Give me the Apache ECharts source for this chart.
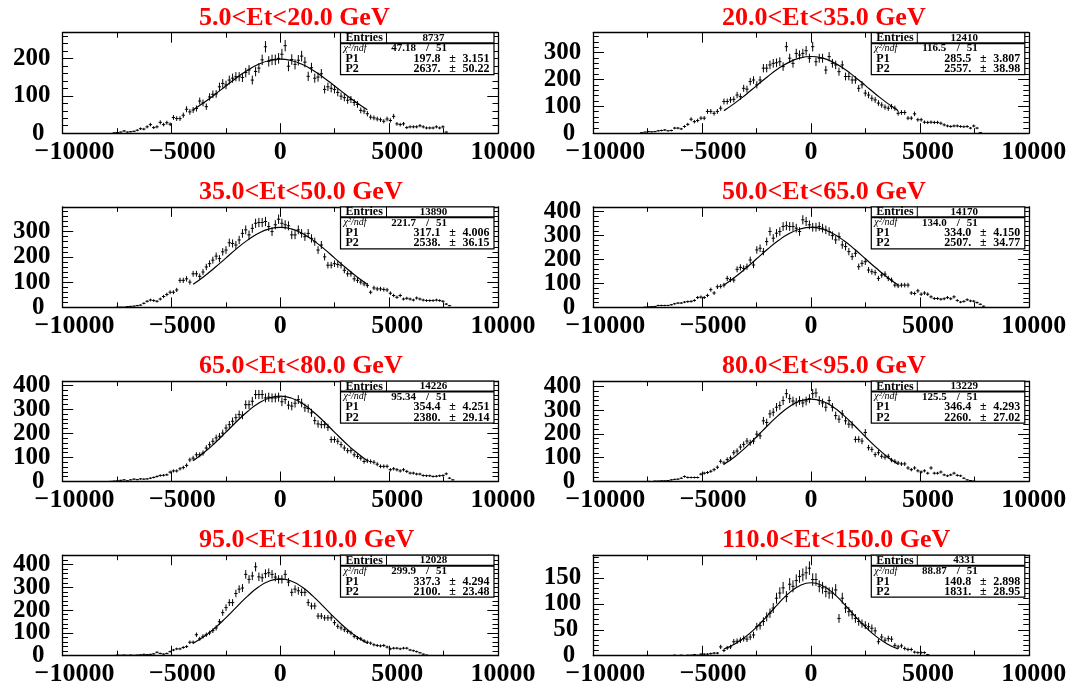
<!DOCTYPE html>
<html>
<head>
<meta charset="utf-8">
<script src="https://cdn.jsdelivr.net/npm/echarts@6/dist/echarts.min.js"></script>
<style>
html,body{margin:0;padding:0;background:#fff;}
#c{width:1079px;height:693px;}
</style>
</head>
<body>
<div id="c"></div>
<script>
// ---------------- data ----------------
const titles = ['5.0<Et<20.0 GeV','20.0<Et<35.0 GeV','35.0<Et<50.0 GeV','50.0<Et<65.0 GeV',
                '65.0<Et<80.0 GeV','80.0<Et<95.0 GeV','95.0<Et<110.0 GeV','110.0<Et<150.0 GeV'];
const entries = ['8737','12410','13890','14170','14226','13229','12028','4331'];
const chi2 = ['47.18','116.5','221.7','134.0','95.34','125.5','299.9','88.87'];
const ndf = ['51','51','51','51','51','51','51','51'];
const p1Val = ['197.8','285.5','317.1','334.0','354.4','346.4','337.3','140.8'];
const p1Err = ['3.151','3.807','4.006','4.150','4.251','4.293','4.294','2.898'];
const p2Val = ['2637.','2557.','2538.','2507.','2380.','2260.','2100.','1831.'];
const p2Err = ['50.22','38.98','36.15','34.77','29.14','27.02','23.48','28.95'];
const yMax = [268.6, 374, 398, 420, 417, 422, 441, 194];
const yStep = [100, 100, 100, 100, 100, 100, 100, 50];
const yMinorStep = [20, 20, 20, 20, 20, 20, 20, 10];
const xTickLabels = {'-10000':'\u221210000','-5000':'\u22125000','0':'0','5000':'5000','10000':'10000'};

// histogram binning (106 bins over -8000..8000)
const histMin = -8000, histMax = 8000, nBins = 106;

const counts1 = [0,0,1,2,3,6,3,4,5,8, 12,11,17,23,15,17,29,23,28,24, 42,39,39,48,64,57,62,66,86,81,
  71,97,104,105,124,133,129,142,147,151, 151,149,162,169,142,165,174,196,231,192,
  196,196,200,211,234,179,197,184,195,206, 190,152,175,147,150,159,117,124,120,117,
  109,99,95,88,90,82,77,61,59,52, 43,41,38,36,32,38,34,45,25,23, 25,15,17,17,17,20,17,14,14,14, 17,14,17,3,0,0];
const counts2 = [0,2,4,6,5,6,9,10,12,9, 10,19,19,16,25,33,52,43,47,56, 56,81,81,74,81,93,118,118,124,126,
  142,136,167,164,192,198,180,198,242,242, 254,260,262,266,248,322,279,260,297,291,
  297,307,279,322,266,279,279,235,285,260, 254,229,254,211,211,198,198,167,180,149,
  142,130,124,112,105,97,93,99,93,74, 77,77,56,56,72,50,50,41,40,41, 40,40,37,31,27,25,27,27,25,24, 25,19,27,19,2,0];
const counts3 = [0,0,0,1,1,1,3,4,5,7, 9,16,24,29,27,24,33,43,51,60, 60,69,107,107,113,100,133,133,123,140,
  160,173,187,203,193,220,227,256,253,247, 267,293,307,287,313,333,336,336,340,320,
  300,327,349,333,327,323,287,287,307,293, 280,293,273,260,227,247,200,167,167,173,
  170,167,147,133,133,113,107,100,93,87, 60,77,73,73,71,69,56,47,40,47, 33,36,33,29,37,33,29,27,27,27, 29,27,24,13,7,0];
const counts4 = [0,0,1,2,3,4,8,8,8,8, 11,15,18,18,22,24,25,29,41,43, 41,50,74,60,86,88,93,121,116,114,
  159,167,163,170,198,177,240,247,233,275, 317,289,310,317,338,341,338,338,331,317,
  366,359,345,335,335,338,331,324,317,300, 282,296,261,254,233,212,226,170,184,191,
  156,149,145,121,135,139,121,114,93,90, 93,93,93,60,58,69,55,60,55,44, 37,37,34,36,41,36,44,29,22,25, 32,27,26,20,13,5];
const counts5 = [0,1,2,3,5,7,3,7,10,8, 11,10,11,14,17,21,25,26,28,39, 44,44,53,58,67,90,97,111,111,118,
  139,153,167,181,188,201,222,236,250,265, 278,275,319,319,333,361,361,361,347,350,
  347,347,350,331,340,317,313,325,340,326, 306,303,285,253,239,236,236,225,174,174,
  167,153,139,128,128,111,104,97,83,86, 83,80,72,63,63,63,49,53,49,44, 49,42,35,35,31,31,25,24,24,21, 22,24,25,32,14,7];
const counts6 = [0,0,0,1,0,2,2,3,3,4, 7,9,10,14,21,17,17,17,17,31, 35,38,43,50,60,85,78,92,99,121,
  128,145,156,170,163,170,199,192,255,248, 284,291,312,319,340,369,348,338,333,340,
  330,338,348,369,372,340,330,312,340,312, 277,262,284,255,241,238,177,177,170,206,
  142,135,113,121,106,102,106,90,85,78, 74,74,57,50,57,45,40,45,35,57, 35,35,40,28,24,28,35,26,24,14, 7,4,2,0,0,0];
const counts7 = [0,0,1,3,2,3,2,3,2,3, 4,6,5,6,8,15,10,7,10,18, 25,30,30,36,40,59,59,92,74,85,
  92,100,110,122,149,189,211,233,233,273, 292,297,357,335,350,390,346,342,360,364,
  357,345,335,335,357,323,278,292,285,278, 278,233,218,218,174,174,166,166,166,145,
  129,122,114,107,100,85,77,74,65,59, 55,48,45,43,45,38,30,33,33,30, 33,33,25,22,18,13,7,3,1,0, 0,0,0,0,0,0];
const counts8 = [0,0,0,0,0,0,0,0,0,0, 0,1,0,1,0,1,1,2,1,3, 3,3,4,5,5,17,10,15,17,27,
  28,30,33,32,36,40,56,58,66,75, 82,92,111,121,131,114,138,134,145,153,
  156,160,169,147,147,134,131,124,121,121, 127,72,111,92,85,79,72,66,62,59,
  56,53,48,27,36,30,33,32,20,17, 19,14,12,12,7,6,6,6,2,0, 0,0,0,0,0,0,0,0,0,0, 0,0,0,0,0,0];

// fitted curves read at -4000..4000, step 500
const fitX = [-4000,-3500,-3000,-2500,-2000,-1500,-1000,-500,0,500,1000,1500,2000,2500,3000,3500,4000];
const fit1 = [62.6,82.0,103.6,126.2,148.4,168.3,184.1,194.3,197.8,194.3,184.1,168.3,148.4,126.2,103.6,82.0,62.6];
const fit2 = [84.0,111.9,143.4,177.0,210.3,240.4,264.5,280.1,285.5,280.1,264.5,240.4,210.3,177.0,143.4,111.9,84.0];
const fit3 = [91.6,122.5,157.7,195.2,232.5,266.3,293.4,311.0,317.1,311.0,293.4,266.3,232.5,195.2,157.7,122.5,91.6];
const fit4 = [93.5,126.0,163.2,203.1,243.0,279.3,308.5,327.4,334.0,327.4,308.5,279.3,243.0,203.1,163.2,126.0,93.5];
const fit5 = [86.3,120.2,160.1,204.1,249.0,290.6,324.5,346.7,354.4,346.7,324.5,290.6,249.0,204.1,160.1,120.2,86.3];
const fit6 = [72.3,104.4,143.5,187.9,234.2,277.9,314.1,338.0,346.4,338.0,314.1,277.9,234.2,187.9,143.5,104.4,72.3];
const fit7 = [55.0,84.1,121.6,166.1,214.3,261.4,301.1,327.9,337.3,327.9,301.1,261.4,214.3,166.1,121.6,84.1,55.0];
const fit8 = [12.9,22.7,36.8,55.4,77.5,100.7,121.3,135.6,140.8,135.6,121.3,100.7,77.5,55.4,36.8,22.7,12.9];

// ---------------- layout ----------------
const COL_LEFT = [62.5, 593.3];
const GRID_W = 435.5, GRID_H = 100.5;
const ROW_TOP0 = 32.7, ROW_STEP = 174.17;
const TITLE_X = [199, 722], TITLE_Y0 = 18;
const SERIF = 'Liberation Serif';

const allCounts = [counts1,counts2,counts3,counts4,counts5,counts6,counts7,counts8];
const allFits = [fit1,fit2,fit3,fit4,fit5,fit6,fit7,fit8];
const binW = (histMax - histMin) / nBins;
const centers = Array.from({length: nBins}, (_, i) => histMin + binW * (i + 0.5));

function bold(size, extra) {
  return Object.assign({fontFamily: SERIF, fontWeight: 'bold', fontSize: size, color: '#000'}, extra || {});
}
const xRich = {
  a: bold(26, {padding: [0, 0, 0, 24]}),
  b: bold(26, {padding: [0, 0, 0, 22]}),
  c: bold(26),
  d: bold(26, {padding: [0, 0, 0, 16]}),
  e: bold(26, {padding: [0, 0, 0, 10]})
};
const xKey = {'-10000':'a','-5000':'b','0':'c','5000':'d','10000':'e'};
function xFmt(v) {
  const k = String(Math.round(v));
  if (!(k in xTickLabels)) return '';
  return '{' + xKey[k] + '|' + xTickLabels[k] + '}';
}
const yRich = {
  d1: bold(25, {padding: [0, 6, 0, 0]}),
  d2: bold(25, {padding: [0, 3, 0, 0]}),
  d3: bold(25)
};

const tick = (len, show) => ({show: show, inside: true, length: len, lineStyle: {color: '#000', width: 1}});

// y label formatter: parity 0 -> even multiples of step, parity 1 -> odd multiples
function makeYFmt(step, parity) {
  return function (v) {
    const r = v / step;
    const n = Math.round(r);
    if (Math.abs(r - n) > 1e-6) return '';
    if (Math.abs(n % 2) !== parity) return '';
    const s = String(Math.round(v));
    return '{d' + s.length + '|' + s + '}';
  };
}
function yLabel(fmt) {
  return {show: true, margin: 12, interval: 0, showMinLabel: true, showMaxLabel: true, hideOverlap: false,
    fontFamily: SERIF, fontWeight: 'bold', fontSize: 25, color: '#000', formatter: fmt, rich: yRich};
}

const grids = [], xAxes = [], yAxes = [], series = [], graphics = [];

function txt(x, y, s, font, align, color) {
  return {type: 'text', z: 102, x: x, y: y, silent: true,
    style: {text: s, font: font, fill: color || '#000', align: align, verticalAlign: 'middle',
            textAlign: align, textVerticalAlign: 'middle'}};
}

for (let p = 0; p < 8; p++) {
  const col = p % 2, row = Math.floor(p / 2);
  const gl = COL_LEFT[col], gt = ROW_TOP0 + ROW_STEP * row;
  grids.push({left: gl, top: gt, width: GRID_W, height: GRID_H, containLabel: false,
              outerBoundsMode: 'none', show: false});

  const xBase = {gridIndex: p, type: 'value', min: -10000, max: 10000, interval: 5000,
    splitLine: {show: false}, minorSplitLine: {show: false}};
  xAxes.push(Object.assign({}, xBase, {position: 'bottom',
    axisLine: {show: true, onZero: false, lineStyle: {color: '#000', width: 1.3}},
    axisTick: tick(10, true),
    minorTick: {show: true, splitNumber: 2, length: 5, lineStyle: {color: '#000', width: 1}},
    axisLabel: {show: true, margin: 6, interval: 0, showMinLabel: true, showMaxLabel: true, hideOverlap: false,
      fontFamily: SERIF, fontWeight: 'bold', fontSize: 26, color: '#000',
      formatter: xFmt, rich: xRich}}));
  xAxes.push(Object.assign({}, xBase, {position: 'top',
    axisLine: {show: true, onZero: false, lineStyle: {color: '#000', width: 1.3}},
    axisTick: tick(10, true),
    minorTick: {show: true, splitNumber: 2, length: 5, lineStyle: {color: '#000', width: 1}},
    axisLabel: {show: false}}));

  const step = yStep[p];
  const yBase = {gridIndex: p, type: 'value', min: 0, max: yMax[p],
    splitLine: {show: false}, minorTick: {show: false}, minorSplitLine: {show: false}};
  // left major (labels at even multiples of the step)
  yAxes.push(Object.assign({}, yBase, {position: 'left', interval: step,
    axisLine: {show: true, onZero: false, lineStyle: {color: '#000', width: 1.3}},
    axisTick: tick(10.7, true),
    axisLabel: yLabel(makeYFmt(step, 0))}));
  // left minor (short ticks; carries labels at odd multiples of the step)
  yAxes.push(Object.assign({}, yBase, {position: 'left', interval: yMinorStep[p],
    axisLine: {show: false, onZero: false}, axisTick: tick(5.5, true),
    axisLabel: yLabel(makeYFmt(step, 1))}));
  // right major
  yAxes.push(Object.assign({}, yBase, {position: 'right', interval: step,
    axisLine: {show: true, onZero: false, lineStyle: {color: '#000', width: 1.3}},
    axisTick: tick(10.7, true), axisLabel: {show: false}}));
  // right minor
  yAxes.push(Object.assign({}, yBase, {position: 'right', interval: yMinorStep[p],
    axisLine: {show: false, onZero: false}, axisTick: tick(5.5, true), axisLabel: {show: false}}));

  const cnt = allCounts[p];
  const data = [];
  for (let i = 0; i < nBins; i++) if (cnt[i] > 0) data.push([centers[i], cnt[i]]);

  series.push({
    type: 'custom', xAxisIndex: 2 * p, yAxisIndex: 4 * p, z: 3, silent: true,
    data: data, encode: {x: 0, y: 1},
    renderItem: function (params, api) {
      const x = api.value(0), y = api.value(1);
      const e = Math.sqrt(y);
      const c = api.coord([x, y]);
      const t = api.coord([x, y + e]);
      const b = api.coord([x, y - e]);
      const l = api.coord([x - binW / 2, y]);
      const r = api.coord([x + binW / 2, y]);
      return {type: 'group', children: [
        {type: 'line', shape: {x1: c[0], y1: t[1], x2: c[0], y2: b[1]}, style: {stroke: '#000', lineWidth: 1}},
        {type: 'line', shape: {x1: l[0], y1: c[1], x2: r[0], y2: c[1]}, style: {stroke: '#000', lineWidth: 1}}
      ]};
    }
  });
  series.push({
    type: 'line', xAxisIndex: 2 * p, yAxisIndex: 4 * p, z: 4, silent: true,
    data: fitX.map((x, i) => [x, allFits[p][i]]),
    smooth: true, symbol: 'none', showSymbol: false,
    lineStyle: {color: '#000', width: 1.2}
  });

  // title
  graphics.push(txt(TITLE_X[col], TITLE_Y0 + ROW_STEP * row, titles[p], 'bold 26px "Liberation Serif"', 'left', '#ff0000'));

  // stats box
  const L = gl + 278, R = gl + GRID_W - 4, T = gt, B = gt + 42;
  graphics.push({type: 'rect', z: 100, silent: true, shape: {x: L, y: T, width: R - L, height: B - T},
    style: {fill: '#fff', stroke: '#000', lineWidth: 1.2}});
  graphics.push({type: 'line', z: 101, silent: true, shape: {x1: L, y1: T + 10.5, x2: R, y2: T + 10.5},
    style: {stroke: '#000', lineWidth: 2}});
  graphics.push({type: 'line', z: 101, silent: true, shape: {x1: L + 46, y1: T, x2: L + 46, y2: T + 10.5},
    style: {stroke: '#000', lineWidth: 1}});
  const f11 = 'bold 11px "Liberation Serif"', f12 = 'bold 12px "Liberation Serif"', fi = 'italic 10px "Liberation Serif"';
  graphics.push(txt(L + 5, T + 5.4, 'Entries', f12, 'left'));
  graphics.push(txt(L + 93, T + 5.4, entries[p], f11, 'center'));
  graphics.push(txt(L + 3, T + 15.8, '\u03c7\u00b2/ndf', fi, 'left'));
  graphics.push(txt(L + 63, T + 15.8, chi2[p], f11, 'center'));
  graphics.push(txt(L + 87, T + 15.8, '/', f11, 'center'));
  graphics.push(txt(L + 101, T + 15.8, ndf[p], f11, 'center'));
  graphics.push(txt(L + 5, T + 26.2, 'P1', f12, 'left'));
  graphics.push(txt(L + 100, T + 26.2, p1Val[p], f12, 'right'));
  graphics.push(txt(L + 112, T + 26.2, '\u00b1', f12, 'center'));
  graphics.push(txt(L + 122, T + 26.2, p1Err[p], f12, 'left'));
  graphics.push(txt(L + 5, T + 36.4, 'P2', f12, 'left'));
  graphics.push(txt(L + 100, T + 36.4, p2Val[p], f12, 'right'));
  graphics.push(txt(L + 112, T + 36.4, '\u00b1', f12, 'center'));
  graphics.push(txt(L + 122, T + 36.4, p2Err[p], f12, 'left'));
}

const chart = echarts.init(document.getElementById('c'), null, {renderer: 'canvas', width: 1079, height: 693});
chart.setOption({
  animation: false,
  backgroundColor: '#ffffff',
  grid: grids,
  xAxis: xAxes,
  yAxis: yAxes,
  series: series,
  graphic: {elements: graphics}
});
</script>
</body>
</html>
